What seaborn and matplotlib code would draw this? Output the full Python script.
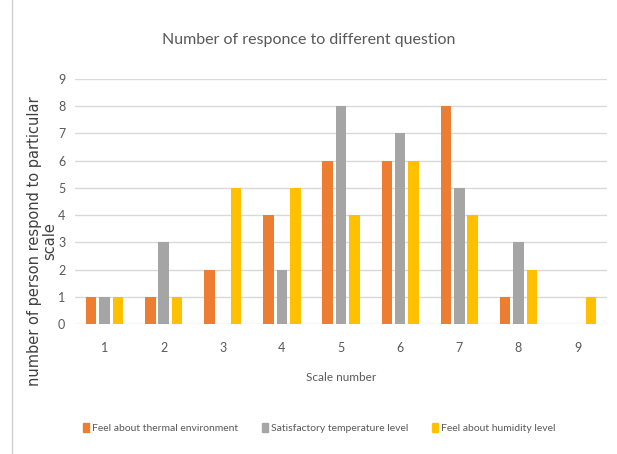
import numpy as np
import pandas as pd
import matplotlib.pyplot as plt
import seaborn as sns
from matplotlib.patches import Patch

# data
scale = ["1", "2", "3", "4", "5", "6", "7", "8", "9"]
thermal = [1, 1, 2, 4, 6, 6, 8, 1, 0]
temperature = [1, 3, 0, 2, 8, 7, 5, 3, 0]
humidity = [1, 1, 5, 5, 4, 6, 4, 2, 1]
series = ["Feel about thermal environment", "Satisfactory temperature level",
          "Feel about humidity level"]
colors = ["#ED7D31", "#A5A5A5", "#FFC000"]

df = pd.DataFrame({"scale": scale * 3,
                   "count": thermal + temperature + humidity,
                   "series": np.repeat(series, len(scale))})

sns.set_style("white")
plt.rcParams['font.family'] = ['Lato', 'DejaVu Sans']

fig = plt.figure(figsize=(6.17, 4.54), dpi=100)
ax = fig.add_axes([0.1216, 0.2863, 0.8624, 0.5397])

sns.barplot(data=df, x="scale", y="count", hue="series", palette=colors,
            saturation=1, width=0.68, gap=0.22, linewidth=0, ax=ax, legend=False)

ax.set_ylim(0, 9)
ax.set_xlim(-0.5, 8.5)
ax.set_yticks(range(10))
ax.yaxis.grid(True, color="#D9D9D9", linewidth=1)
ax.set_axisbelow(True)
for s in ax.spines.values():
    s.set_visible(False)
ax.tick_params(length=0, colors="#595959", labelsize=9, pad=7)
ax.tick_params(axis="x", pad=13)

ax.set_xlabel("Scale number", color="#595959", fontsize=8.5, labelpad=13)
ax.set_ylabel("number of person respond to particular\nscale", color="#404040",
              fontsize=10.5, family="DejaVu Sans", linespacing=1.0)
ax.yaxis.set_label_coords(-0.034, 0.34)

fig.text(0.5, 0.912, "Number of responce to different question", ha="center",
         va="center", fontsize=11.5, color="#595959")

handles = [Patch(color=c, label=l) for c, l in zip(colors, series)]
fig.legend(handles=handles, loc="center", bbox_to_anchor=(0.518, 0.057), ncol=3,
           frameon=False, fontsize=7.5, handlelength=0.55, handleheight=0.9,
           handletextpad=0.3, columnspacing=2.3, labelcolor="#595959")

# thin frame line at the left edge, as in the reference
fig.add_artist(plt.Line2D([0.02, 0.02], [0.0, 1.0], color="#D0D0D0", linewidth=1))

fig.savefig("out.png", dpi=100)
